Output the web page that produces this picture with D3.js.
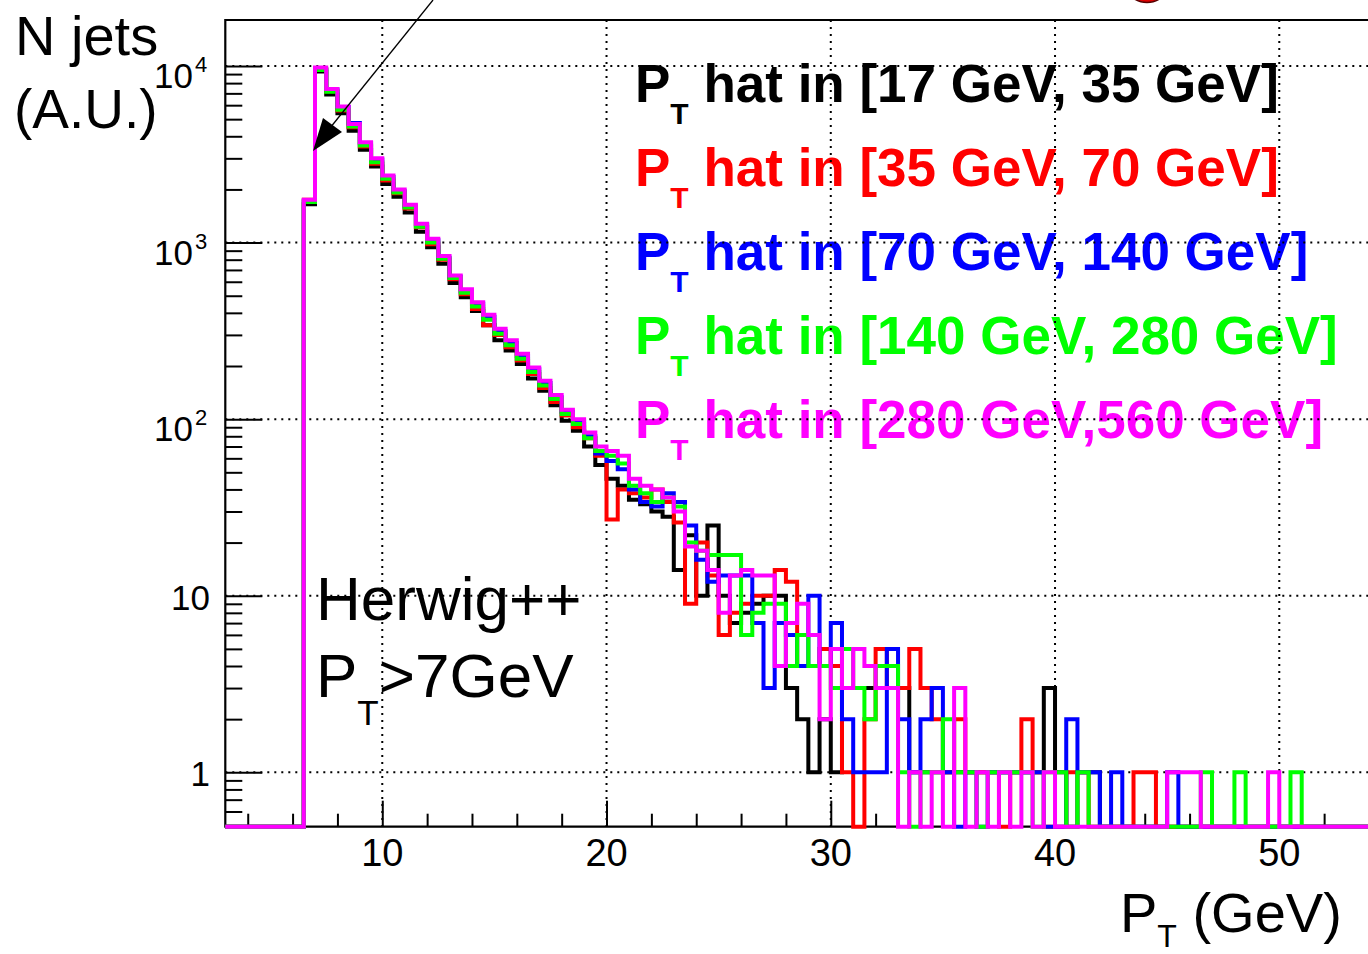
<!DOCTYPE html>
<html><head><meta charset="utf-8">
<script src="https://cdn.jsdelivr.net/npm/d3@7"></script>
<style>
body{margin:0;background:#fff}
svg{display:block}
text{font-family:"Liberation Sans",Arial,Helvetica,sans-serif}
</style>
</head><body>
<svg id="c" width="1368" height="954"></svg>
<script>
// ---------- data ----------
const binWidth = 0.5;                         // GeV
const binLow = d3.range(3, 55, binWidth);     // 104 bin low edges, 3.0 .. 54.5
const seriesNames = ["17-35", "35-70", "70-140", "140-280", "280-560"];
const seriesColors = ["#000000", "#ff0000", "#0000ff", "#00ff00", "#ff00ff"];
const legendLabels = [
  " hat in [17 GeV, 35 GeV]",
  " hat in [35 GeV, 70 GeV]",
  " hat in [70 GeV, 140 GeV]",
  " hat in [140 GeV, 280 GeV]",
  " hat in [280 GeV,560 GeV]"
];
// counts per bin (3.0 .. 54.5 GeV)
const black = [0,0,0,0,0,0,0,
  1650,9300,6900,5400,4300,3350,2700,2150,1820,1480,1150,940,760,590,490,410,340,280,245,205,170,145,120,98,86,70,55,
  46,42,35,33,30,28,14,22,10,25,10,7,8,9,10,10,3,2,1,2,
  1,3,3,3,3,3,3,1,1,1,1,1,1,1,1,1,1,1,1,3,
  1,0,1,1,0,0,0,0,0,0,0,0,0,0,0,0,0,0,0,0,
  0,0,0,0,0,0,0,0,0,0];
const red = [0,0,0,0,0,0,0,
  1750,9600,7200,5600,4500,3500,2800,2250,1900,1560,1220,980,800,620,510,420,340,300,255,215,180,150,125,105,90,78,62,
  27,40,38,36,40,34,26,9,20,13,6,8,9,10,10,14,12,4,4,5,
  4,1,0,2,5,3,3,5,3,2,1,2,1,1,1,0,1,2,1,0,
  0,1,1,0,0,0,0,1,1,0,0,0,0,0,0,0,0,0,0,0,
  0,0,0,0,0,0,0,0,0,0];
const blue = [0,0,0,0,0,0,0,
  1720,9600,7350,5850,4750,3650,2950,2350,1950,1600,1260,1030,820,640,530,450,380,315,270,228,192,160,133,110,97,80,64,
  58,52,40,34,32,38,34,25,16,12,13,13,13,7,3,7,6,4,10,4,
  7,2,1,1,1,5,2,1,2,3,1,0,1,0,1,1,1,1,1,0,
  0,2,1,1,0,1,0,0,0,0,1,0,0,0,0,0,0,0,0,0,
  0,0,0,0,0,0,0,0,0,0];
const green = [0,0,0,0,0,0,0,
  1700,9500,7150,5650,4550,3550,2850,2300,1920,1580,1230,1000,810,630,520,435,365,305,262,220,185,155,130,107,94,78,66,
  62,56,42,38,34,36,32,20,18,17,17,17,6,8,9,9,4,6,4,4,
  3,5,3,2,4,4,1,0,1,1,2,1,1,0,1,1,1,1,0,1,
  1,0,1,0,0,0,0,0,0,0,0,0,0,1,0,0,1,0,0,0,
  0,1,0,0,0,0,0,0,0,0];
const magenta = [0,0,0,0,0,0,0,
  1750,9800,7400,5900,4700,3700,3000,2400,2000,1640,1280,1050,840,650,545,460,390,325,280,235,196,165,137,113,100,84,70,
  66,62,46,42,40,36,30,19,18,14,8,13,14,13,13,4,7,9,6,2,
  5,3,5,4,3,3,0,1,0,1,0,3,0,1,0,1,0,1,0,1,
  0,0,0,0,0,0,0,0,0,0,1,1,1,0,0,0,0,0,0,1,
  0,0,0,0,0,0,0,0,0,0];
const seriesValues = [black, red, blue, green, magenta];
const xTickLabels = [10, 20, 30, 40, 50];
const xMinorTicks = d3.range(4, 56, 2);
const yMajorTicks = [1, 10, 100, 1000, 10000];
const yTickText = [["1",null],["10",null],["10","2"],["10","3"],["10","4"]];

// ---------- scales ----------
const svg = d3.select("#c");
const x = d3.scaleLinear().domain([3, 55]).range([225.3, 225.3 + 52 * 22.425]);
const yMin = 0.492, yMax = 18220;
const y = d3.scaleLog().domain([yMin, yMax]).range([826.7, 20]).clamp(true);
const X0 = x(3), Y0 = y(yMin), Y1 = y(yMax);

svg.append("rect").attr("width",1368).attr("height",954).attr("fill","#fff");

// ---------- axes (ticks inside the frame) ----------
const yMinor = [];
for (let e = -1; e <= 4; e++) for (let k = 1; k <= 9; k++) {
  const v = k * Math.pow(10, e);
  if (v > yMin && v < yMax && k !== 1) yMinor.push(v);
}
const gy = svg.append("g").attr("transform", `translate(${X0},0)`);
gy.call(d3.axisRight(y).tickValues(yMinor).tickSize(17).tickFormat(""));
gy.call(g => g.select(".domain").remove());
const gy2 = svg.append("g").attr("transform", `translate(${X0},0)`);
gy2.call(d3.axisRight(y).tickValues(yMajorTicks).tickSize(37).tickFormat(""));
gy2.call(g => g.select(".domain").remove());

const gx = svg.append("g").attr("transform", `translate(0,${Y0})`);
gx.call(d3.axisTop(x).tickValues(xMinorTicks.filter(v => v % 10 !== 0)).tickSize(13).tickFormat(""));
gx.call(g => g.select(".domain").remove());
const gx2 = svg.append("g").attr("transform", `translate(0,${Y0})`);
gx2.call(d3.axisTop(x).tickValues(xTickLabels).tickSize(26).tickFormat(""));
gx2.call(g => g.select(".domain").remove());
svg.selectAll(".tick line").attr("stroke","#000").attr("stroke-width",2);

// frame
svg.append("path")
  .attr("d", `M${x(55)},${Y1}H${X0}V${Y0}H${x(55)}`)
  .attr("fill","none").attr("stroke","#000").attr("stroke-width",2.2);

// ---------- texts inside the pad ----------
const leg = svg.append("g");
seriesNames.forEach((n, i) => {
  const t = leg.append("text")
    .attr("x", 635).attr("y", 102 + i * 84)
    .attr("fill", seriesColors[i])
    .attr("font-weight", "bold").attr("font-size", 53);
  t.append("tspan").text("P");
  t.append("tspan").attr("font-size", 30).attr("dy", 22).text("T");
  t.append("tspan").attr("dy", -22).text(legendLabels[i]);
});

svg.append("text").attr("x", 316).attr("y", 620).attr("font-size", 62).text("Herwig++");
const pt = svg.append("text").attr("x", 316).attr("y", 697).attr("font-size", 62);
pt.append("tspan").text("P");
pt.append("tspan").attr("font-size", 35).attr("dy", 28).text("T");
pt.append("tspan").attr("dy", -28).text(">7GeV");

// ---------- grid ----------
const grid = svg.append("g").attr("stroke","#000").attr("stroke-width",2)
  .attr("stroke-dasharray","2 5");
grid.selectAll(".gx").data(xTickLabels).join("line")
  .attr("x1", d => x(d)).attr("x2", d => x(d)).attr("y1", Y1).attr("y2", Y0);
grid.selectAll(".gy").data(yMajorTicks).join("line")
  .attr("x1", X0).attr("x2", x(55)).attr("y1", d => y(d)).attr("y2", d => y(d));

// ---------- histograms ----------
const line = d3.line().x(d => x(d[0])).y(d => y(Math.max(d[1], yMin)));
seriesValues.forEach((vals, i) => {
  const pts = [];
  vals.forEach((v, j) => { pts.push([binLow[j], v]); pts.push([binLow[j] + binWidth, v]); });
  svg.append("path").attr("d", line(pts))
    .attr("fill","none").attr("stroke", seriesColors[i])
    .attr("stroke-width", 4).attr("stroke-linejoin","miter");
});

// ---------- axis labels ----------
svg.selectAll(".xl").data(xTickLabels).join("text")
  .attr("x", d => x(d)).attr("y", 866).attr("text-anchor","middle")
  .attr("font-size", 38).text(d => d);

yMajorTicks.forEach((v, i) => {
  const [base, sup] = yTickText[i];
  if (sup === null) {
    svg.append("text").attr("x", 210).attr("y", y(v) + 14).attr("text-anchor","end")
      .attr("font-size", 35).text(base);
  } else {
    svg.append("text").attr("x", 193).attr("y", y(v) + 22).attr("text-anchor","end")
      .attr("font-size", 35).text(base);
    svg.append("text").attr("x", 195).attr("y", y(v) + 6)
      .attr("font-size", 22).text(sup);
  }
});

svg.append("text").attr("x", 15).attr("y", 55).attr("font-size", 56).text("N jets");
svg.append("text").attr("x", 14).attr("y", 128).attr("font-size", 55).text("(A.U.)");

const xt = svg.append("text").attr("x", 1120).attr("y", 932).attr("font-size", 56);
xt.append("tspan").text("P");
xt.append("tspan").attr("font-size", 32).attr("dy", 15).text("T");
xt.append("tspan").attr("dy", -15).text(" (GeV)");

// ---------- arrow annotation ----------
svg.append("line").attr("x1", 433).attr("y1", 0).attr("x2", 330).attr("y2", 128)
  .attr("stroke","#000").attr("stroke-width",1.3);
svg.append("path").attr("d","M313,151L323,118L342,132Z").attr("fill","#000");

// partial red marker at the top edge
svg.append("ellipse").attr("cx",1147).attr("cy",-7).attr("rx",16).attr("ry",9.5)
  .attr("fill","#e00000").attr("stroke","#500").attr("stroke-width",1.5);
</script>
</body></html>
